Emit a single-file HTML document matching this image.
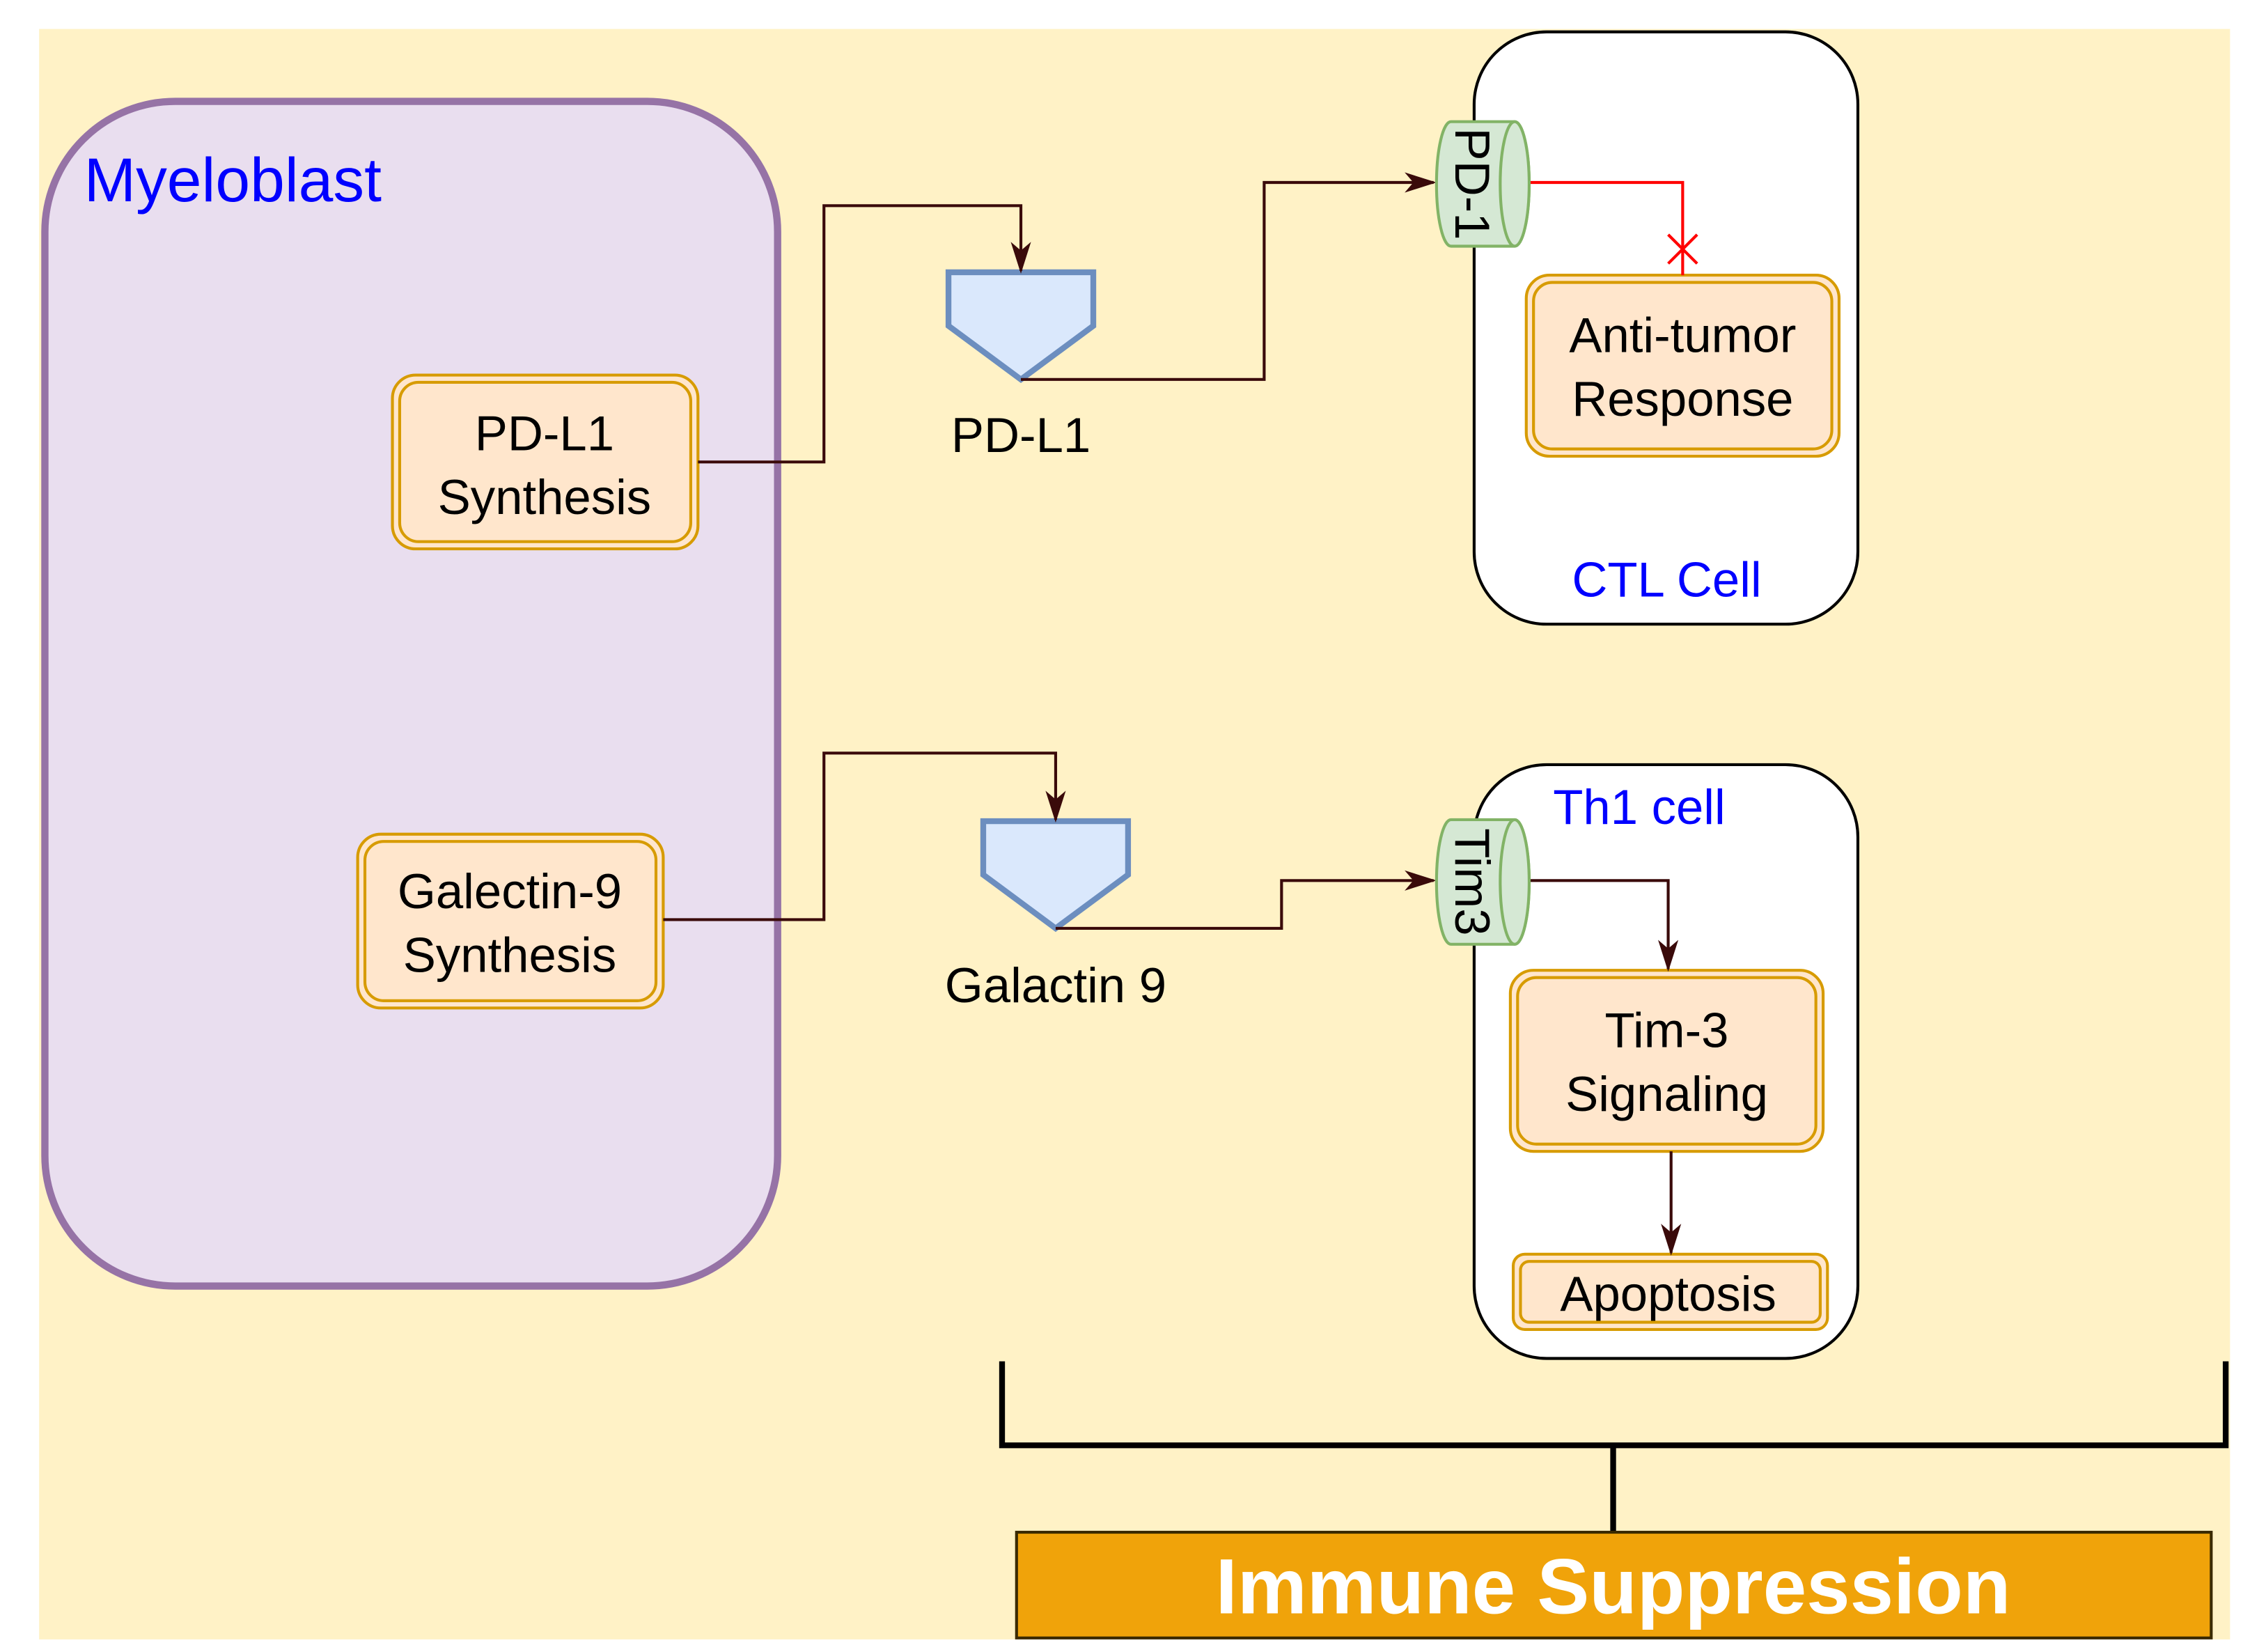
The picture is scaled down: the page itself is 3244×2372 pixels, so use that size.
<!DOCTYPE html>
<html><head><meta charset="utf-8"><style>
html,body{margin:0;padding:0;background:#fff;}
svg{display:block;}
text{font-family:"Liberation Sans",Arial,sans-serif;}
</style></head><body>
<svg width="3244" height="2372" viewBox="0 0 1560 1140.7" preserveAspectRatio="none" xmlns="http://www.w3.org/2000/svg">
<defs>
<marker id="ar" markerWidth="14" markerHeight="22" refX="7" refY="20" orient="0" markerUnits="userSpaceOnUse" viewBox="0 0 14 22">
<path d="M0,0 L7,22 L14,0 L7,6 Z" fill="#3a0a0a"/>
</marker>
<marker id="ar2" markerWidth="22" markerHeight="14" refX="20" refY="7" orient="0" markerUnits="userSpaceOnUse" viewBox="0 0 22 14">
<path d="M0,0 L22,7 L0,14 L6,7 Z" fill="#3a0a0a"/>
</marker>
</defs>
<rect x="0" y="0" width="1560" height="1141" fill="#fff"/>
<rect x="27" y="20" width="1513" height="1112" fill="#FFF2C6"/>

<rect x="31" y="70" width="506" height="818" rx="90" ry="90" fill="#E9DEEF" stroke="#9673A6" stroke-width="5"/>
<text x="58" y="139" font-size="43" fill="#0000FF">Myeloblast</text>

<g fill="#FFE6CC" stroke="#D79B00" stroke-width="2">
<rect x="271" y="259" width="211" height="120" rx="16"/>
<rect x="276" y="264" width="201" height="110" rx="13"/>
<rect x="247" y="576" width="211" height="120" rx="16"/>
<rect x="252" y="581" width="201" height="110" rx="13"/>
</g>
<g font-size="34" fill="#000" text-anchor="middle">
<text x="376" y="311">PD-L1</text>
<text x="376" y="355">Synthesis</text>
<text x="352" y="627">Galectin-9</text>
<text x="352" y="671">Synthesis</text>
</g>

<rect x="1018" y="22" width="265" height="409" rx="50" fill="#fff" stroke="#000" stroke-width="2"/>
<text x="1151" y="412" font-size="34" fill="#0000FF" text-anchor="middle">CTL Cell</text>
<rect x="1018" y="528" width="265" height="410" rx="50" fill="#fff" stroke="#000" stroke-width="2"/>
<text x="1132" y="569" font-size="34" fill="#0000FF" text-anchor="middle">Th1 cell</text>

<g fill="#FFE6CC" stroke="#D79B00" stroke-width="2">
<rect x="1054" y="190" width="216" height="125" rx="16"/>
<rect x="1059" y="195" width="206" height="115" rx="13"/>
<rect x="1043" y="670" width="216" height="125" rx="16"/>
<rect x="1048" y="675" width="206" height="115" rx="13"/>
<rect x="1045" y="866" width="217" height="52" rx="8"/>
<rect x="1050" y="871" width="207" height="42" rx="6"/>
</g>
<g font-size="34" fill="#000" text-anchor="middle">
<text x="1162" y="243">Anti-tumor</text>
<text x="1162" y="287">Response</text>
<text x="1151" y="723">Tim-3</text>
<text x="1151" y="767">Signaling</text>
<text x="1152" y="905">Apoptosis</text>
</g>

<polygon points="655,188 755,188 755,225 705,262 655,225" fill="#DAE8FC" stroke="#6C8EBF" stroke-width="4"/>
<polygon points="679,567 779,567 779,604 729,641 679,604" fill="#DAE8FC" stroke="#6C8EBF" stroke-width="4"/>
<text x="705" y="312" font-size="34" fill="#000" text-anchor="middle">PD-L1</text>
<text x="729" y="692" font-size="34" fill="#000" text-anchor="middle">Galactin 9</text>

<g fill="none" stroke="#3a0a0a" stroke-width="2">
<polyline points="482,319 569,319 569,142 705,142 705,187" marker-end="url(#ar)"/>
<polyline points="705,262 873,262 873,126 990,126" marker-end="url(#ar2)"/>
<polyline points="458,635 569,635 569,520 729,520 729,566" marker-end="url(#ar)"/>
<polyline points="729,641 885,641 885,608 990,608" marker-end="url(#ar2)"/>
<polyline points="1057,608 1152,608 1152,669" marker-end="url(#ar)"/>
<polyline points="1154,795 1154,865" marker-end="url(#ar)"/>
</g>

<g fill="#D5E8D4" stroke="#82B366" stroke-width="2">
<path d="M1002,84 L1046,84 A10,43 0 0 1 1046,170 L1002,170 A10,43 0 0 1 1002,84 Z"/>
<ellipse cx="1046" cy="127" rx="10" ry="43"/>
<path d="M1002,566 L1046,566 A10,43 0 0 1 1046,652 L1002,652 A10,43 0 0 1 1002,566 Z"/>
<ellipse cx="1046" cy="609" rx="10" ry="43"/>
</g>
<text transform="translate(1005,127) rotate(90)" font-size="34" fill="#000" text-anchor="middle">PD-1</text>
<text transform="translate(1005,609) rotate(90)" font-size="34" fill="#000" text-anchor="middle">Tim3</text>

<g fill="none" stroke="#FF0000" stroke-width="2">
<polyline points="1057,126 1162,126 1162,190"/>
<line x1="1152" y1="162" x2="1172" y2="182"/>
<line x1="1172" y1="162" x2="1152" y2="182"/>
</g>

<g fill="none" stroke="#000" stroke-width="4">
<polyline points="692,940 692,998 1537,998 1537,940"/>
<line x1="1114" y1="998" x2="1114" y2="1058"/>
</g>
<rect x="702" y="1058" width="825" height="73" fill="#F0A30A" stroke="#3a2a00" stroke-width="2"/>
<text x="1114" y="1114" font-size="54" font-weight="bold" fill="#fff" text-anchor="middle">Immune Suppression</text>
</svg>
</body></html>
